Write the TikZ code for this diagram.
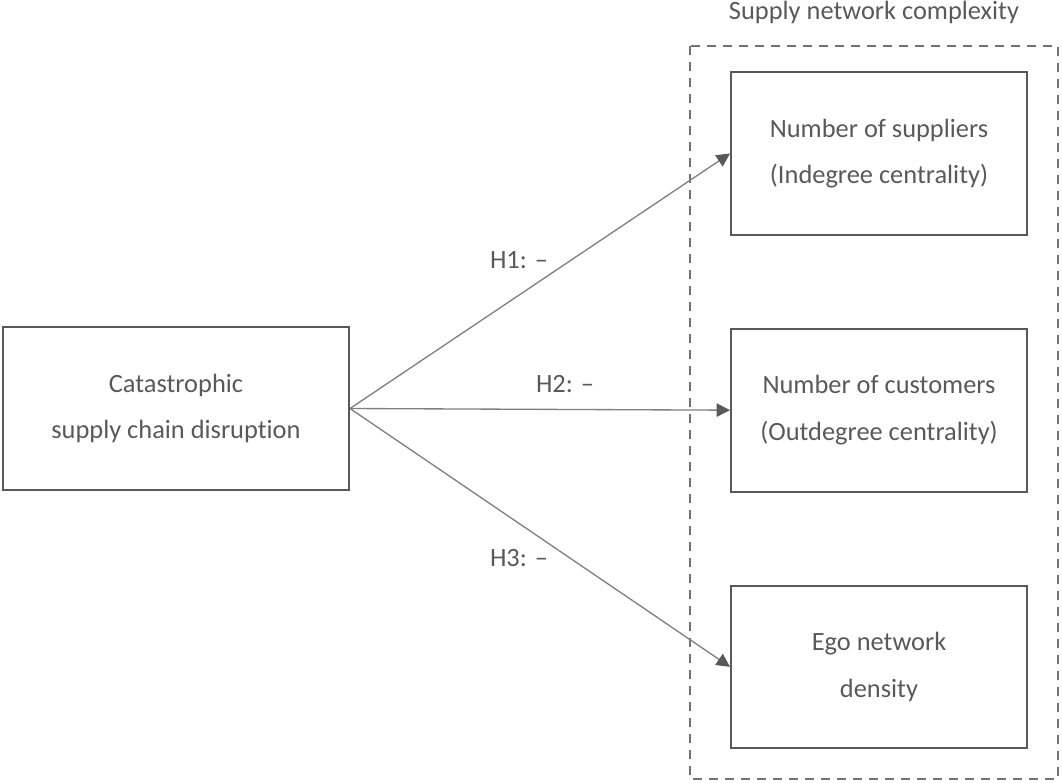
\documentclass[tikz,border=0pt]{standalone}
\usepackage{fontspec}
\setmainfont[Ligatures=NoCommon]{Carlito}
\usetikzlibrary{positioning,arrows.meta}
\definecolor{boxgrey}{HTML}{595959}
\definecolor{linkgrey}{HTML}{808080}
\definecolor{dashgrey}{HTML}{767171}

\begin{document}
\begin{tikzpicture}[x=0.75pt,y=-0.75pt,% 1 unit = 1 pixel of the original figure
        every node/.style={font=\fontsize{19.8}{35}\selectfont, text=boxgrey},
        varbox/.style={draw=boxgrey, line width=1.5pt, align=center, inner sep=0pt,
                minimum width=222pt, minimum height=122pt},
        link/.style={draw=linkgrey, line width=1pt,
                -{Triangle[length=10pt,width=10pt,color=boxgrey]}}]
\useasboundingbox (0,0) rectangle (1062,782);

% cause
\node[varbox, minimum width=259.5pt] (disruption) at (176,408.5) {Catastrophic\\supply chain disruption};

% outcomes, stacked
\node[varbox] (suppliers) at (879,153.5) {Number of suppliers\\(Indegree centrality)};
\node[varbox, below=69pt of suppliers] (customers) {Number of customers\\(Outdegree centrality)};
\node[varbox, below=69pt of customers] (density) {Ego network\\density};

% group frame and its title
\draw[dashgrey, line width=1.5pt, dash pattern=on 7pt off 5pt] (690,46) rectangle (1058,779);
\node[anchor=base] (complexity) at (874,19) {Supply network complexity};

% hypotheses
\draw[link] (disruption.east) -- (suppliers.west);
\draw[link] (disruption.east) -- (customers.west);
\draw[link] (disruption.east) -- (density.west);

\node (H1) at (519,260) {H1: –};
\node (H2) at (565,384) {H2: –};
\node (H3) at (519,558) {H3: –};

\end{tikzpicture}
\end{document}
